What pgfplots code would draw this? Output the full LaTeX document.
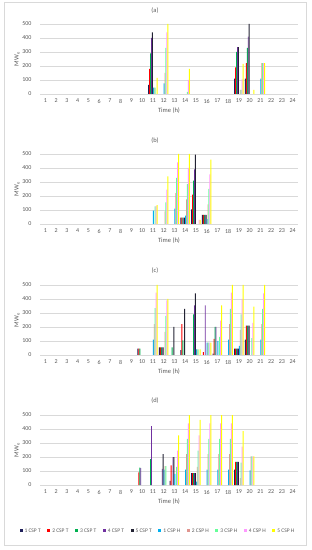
\documentclass[border=0pt]{standalone}
\usepackage{fontspec}
\setmainfont{Carlito}
\usepackage{pgfplots}
\pgfplotsset{compat=1.18}
\definecolor{c1}{HTML}{1F1F5A}
\definecolor{c2}{HTML}{FF0000}
\definecolor{c3}{HTML}{00B050}
\definecolor{c4}{HTML}{7030A0}
\definecolor{c5}{HTML}{222233}
\definecolor{c6}{HTML}{00B0F0}
\definecolor{c7}{HTML}{E0958F}
\definecolor{c8}{HTML}{66FF99}
\definecolor{c9}{HTML}{FF99FF}
\definecolor{c10}{HTML}{FFFF00}
\definecolor{txt}{HTML}{595959}
\definecolor{gridc}{HTML}{D9D9D9}
\pgfplotsset{panel/.style={
  scale only axis, width=258pt, height=70pt,
  anchor=south west,
  xmin=0.5, xmax=24.5, ymin=0, ymax=500,
  ytick={0,100,...,500}, xtick={1,...,24},
  ymajorgrids, grid style={gridc, line width=0.6pt},
  axis line style={draw=none}, major tick length=0pt,
  tick label style={font=\fontsize{6}{7}\selectfont, text=txt},
  xticklabel style={anchor=center, yshift=-7pt},
  yticklabel style={anchor=east, xshift=-5pt},
  /pgf/number format/assume math mode=true,
  ybar=0pt, bar width=0.93pt,
  every axis plot/.append style={draw=none},
  xlabel={Time (h)}, ylabel={MW\textsubscript{e}},
  label style={font=\fontsize{6.5}{7.5}\selectfont, text=txt},
  xlabel style={at={(axis description cs:0.5,-0.243)}, anchor=center},
  ylabel style={at={(axis description cs:-0.089,0.5)}, anchor=center},
  clip=false,
}}
\begin{document}
\begin{tikzpicture}
\path[use as bounding box] (0pt,0pt) rectangle (312pt,550pt);
\draw[gridc, line width=0.6pt] (4pt,5pt) rectangle (306pt,548pt);
% ---------------- (a)
\begin{axis}[panel, at={(40pt,456pt)}]
\addplot[fill=c1] coordinates {(11,65) (19,110) (20,110)};
\addplot[fill=c2] coordinates {(11,180) (19,190) (20,220)};
\addplot[fill=c3] coordinates {(11,290) (19,300) (20,330)};
\addplot[fill=c4] coordinates {(11,400) (19,335) (20,410)};
\addplot[fill=c5] coordinates {(11,440) (19,335) (20,500)};
\addplot[fill=c6] coordinates {(11,45) (12,75) (21,110)};
\addplot[fill=c7] coordinates {(11,45) (12,150) (19,30) (21,220)};
\addplot[fill=c8] coordinates {(11,45) (12,330) (14,15) (19,30) (21,220)};
\addplot[fill=c9] coordinates {(12,440) (14,100) (19,105) (21,220)};
\addplot[fill=c10] coordinates {(11,115) (12,500) (14,180) (19,215) (20,30) (21,220)};
\end{axis}
% ---------------- (b)
\begin{axis}[panel, at={(40pt,326pt)}]
\addplot[fill=c1] coordinates {(14,45) (15,105) (16,65)};
\addplot[fill=c2] coordinates {(14,45) (15,210) (16,65)};
\addplot[fill=c3] coordinates {(14,45) (15,310) (16,65)};
\addplot[fill=c4] coordinates {(14,45) (15,390) (16,65)};
\addplot[fill=c5] coordinates {(14,45) (15,495) (16,65)};
\addplot[fill=c6] coordinates {(11,95) (13,110) (14,60) (16,35)};
\addplot[fill=c7] coordinates {(12,90) (13,220) (14,175) (16,140)};
\addplot[fill=c8] coordinates {(11,125) (12,155) (13,330) (14,285) (16,250)};
\addplot[fill=c9] coordinates {(11,130) (12,245) (13,440) (14,400) (15,30) (16,355)};
\addplot[fill=c10] coordinates {(11,135) (12,340) (13,500) (14,500) (15,30) (16,460)};
\end{axis}
% ---------------- (c)
\begin{axis}[panel, at={(40pt,195pt)}]
\addplot[fill=c1] coordinates {(10,45) (12,55) (14,35) (17,10) (19,45) (20,110)};
\addplot[fill=c2] coordinates {(10,45) (12,55) (14,220) (16,20) (17,115) (19,45) (20,210)};
\addplot[fill=c3] coordinates {(10,45) (12,55) (13,55) (14,105) (15,290) (17,200) (19,45) (20,210)};
\addplot[fill=c4] coordinates {(12,55) (15,355) (16,355) (17,200) (19,45) (20,210)};
\addplot[fill=c5] coordinates {(12,55) (13,200) (14,330) (15,440) (19,45) (20,210)};
\addplot[fill=c6] coordinates {(11,110) (15,40) (16,88) (17,100) (18,110) (19,65) (21,110)};
\addplot[fill=c7] coordinates {(11,220) (12,165) (15,40) (16,88) (18,220) (19,180) (21,220)};
\addplot[fill=c8] coordinates {(11,335) (12,280) (15,40) (16,88) (17,130) (18,330) (19,290) (20,120) (21,330)};
\addplot[fill=c9] coordinates {(11,445) (12,390) (16,88) (17,245) (18,445) (19,400) (20,230) (21,440)};
\addplot[fill=c10] coordinates {(11,500) (12,400) (15,40) (16,88) (17,355) (18,500) (19,500) (20,345) (21,500)};
\end{axis}
% ---------------- (d)
\begin{axis}[panel, at={(40pt,65pt)},
  legend style={at={(axis description cs:0.457,-0.657)}, anchor=center, draw=none, fill=none,
    font=\fontsize{5.5}{6.5}\selectfont, text=txt, legend columns=10,
    /tikz/every even column/.append style={column sep=4.5pt},
    inner sep=0pt},
  legend image code/.code={\fill[#1] (0pt,-1.5pt) rectangle (3pt,1.5pt);}]
\addplot[fill=c1] coordinates {(13,30) (15,85) (19,110)};
\addplot[fill=c2] coordinates {(10,90) (13,140) (15,85) (19,165)};
\addplot[fill=c3] coordinates {(10,125) (11,185) (15,85) (19,165)};
\addplot[fill=c4] coordinates {(10,120) (11,420) (12,115) (13,200) (15,85) (19,165)};
\addplot[fill=c5] coordinates {(12,220) (13,200) (15,85) (19,165)};
\addplot[fill=c6] coordinates {(12,110) (13,80) (14,110) (15,25) (16,110) (17,110) (18,110) (20,105)};
\addplot[fill=c7] coordinates {(12,135) (14,220) (15,130) (16,220) (17,220) (18,220) (19,50) (20,205)};
\addplot[fill=c8] coordinates {(12,135) (13,130) (14,330) (15,245) (16,330) (17,330) (18,330) (19,160) (20,205)};
\addplot[fill=c9] coordinates {(13,245) (14,440) (15,355) (16,440) (17,440) (18,440) (19,275) (20,205)};
\addplot[fill=c10] coordinates {(13,355) (14,500) (15,465) (16,500) (17,500) (18,500) (19,385) (20,205)};
\legend{1 CSP T,2 CSP T,3 CSP T,4 CSP T,5 CSP T,1 CSP H,2 CSP H,3 CSP H,4 CSP H,5 CSP H}
\end{axis}
\node[font=\fontsize{6.5}{7.5}\selectfont, text=txt] at (155pt,539pt) {(a)};
\node[font=\fontsize{6.5}{7.5}\selectfont, text=txt] at (155pt,409pt) {(b)};
\node[font=\fontsize{6.5}{7.5}\selectfont, text=txt] at (155pt,279pt) {(c)};
\node[font=\fontsize{6.5}{7.5}\selectfont, text=txt] at (155pt,149pt) {(d)};
\end{tikzpicture}
\end{document}
